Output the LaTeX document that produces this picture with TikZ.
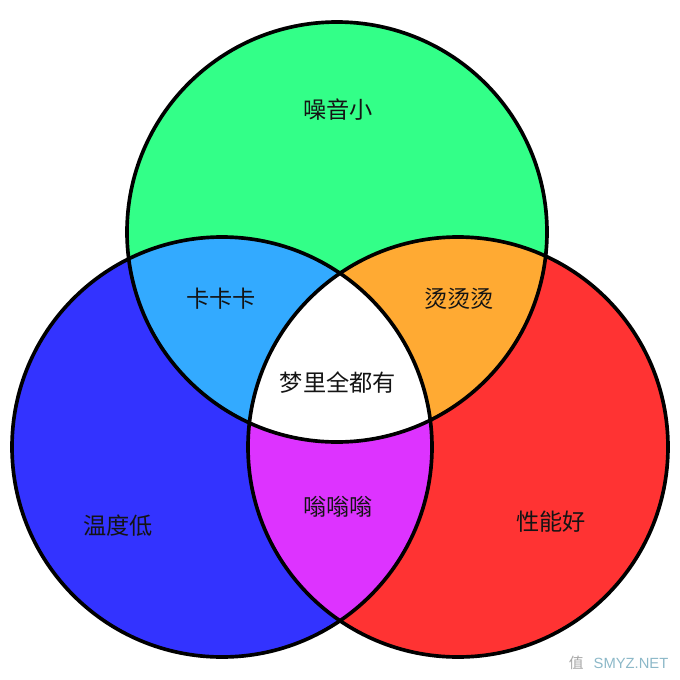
\documentclass[tikz,border=0pt]{standalone}
\usepackage{fontspec}
\newfontfamily\cjk{Noto Sans CJK SC}
\newfontfamily\markfont{Liberation Sans}
\usetikzlibrary{positioning}

\definecolor{quietgreen}{HTML}{33FF88}
\definecolor{coolblue}{HTML}{3333FF}
\definecolor{fastred}{HTML}{FF3333}
\definecolor{lagblue}{HTML}{33AAFF}
\definecolor{hotorange}{HTML}{FFAA33}
\definecolor{hummauve}{HTML}{DD33FF}
\definecolor{markteal}{HTML}{8CB8C8}

\begin{document}
\begin{tikzpicture}[
  x=0.025cm, y=-0.025cm,
  ring/.style={draw=black, line width=2.6pt},
  tag/.style={font=\cjk\fontsize{16.5}{19}\selectfont, text=black!92},
  wmark/.style={font=\markfont\fontsize{10.5}{12}\selectfont}
]
\useasboundingbox (0,0) rectangle (680,680);

% centres of the three discs
\coordinate (ctop)   at (337,232);
\coordinate (cleft)  at (222,447);
\coordinate (cright) at (458,447);

% -- single discs
\fill[coolblue]  (cleft)  circle[radius=210];
\fill[fastred]   (cright) circle[radius=210];
\fill[quietgreen] (ctop)  circle[radius=210];

% -- pairwise overlaps
\begin{scope}
  \clip (cleft) circle[radius=210];
  \fill[lagblue] (ctop) circle[radius=210];
\end{scope}
\begin{scope}
  \clip (cright) circle[radius=210];
  \fill[hotorange] (ctop) circle[radius=210];
\end{scope}
\begin{scope}
  \clip (cleft) circle[radius=210];
  \fill[hummauve] (cright) circle[radius=210];
\end{scope}

% -- centre, all three
\begin{scope}
  \clip (cleft) circle[radius=210];
  \clip (cright) circle[radius=210];
  \fill[white] (ctop) circle[radius=210];
\end{scope}

% -- outlines
\draw[ring] (ctop)   circle[radius=210];
\draw[ring] (cleft)  circle[radius=210];
\draw[ring] (cright) circle[radius=210];

% -- labels
\node[tag] (quiet) at (338,110) {噪音小};
\node[tag] (lag)   at (221,299) {卡卡卡};
\node[tag] (hot)   at (459,299) {烫烫烫};
\node[tag] (dream) at (338,383) {梦里全都有};
\node[tag] (cool)  at (118,526) {温度低};
\node[tag] (hum)   at (338,507) {嗡嗡嗡};
\node[tag] (fast)  at (551,522) {性能好};

% -- watermark
\node[wmark, text=markteal] (site) at (631,663) {SMYZ.NET};
\node[font=\cjk\fontsize{10.5}{12}\selectfont, text=black!35, left=0pt of site] (mark) {值};
\end{tikzpicture}
\end{document}
